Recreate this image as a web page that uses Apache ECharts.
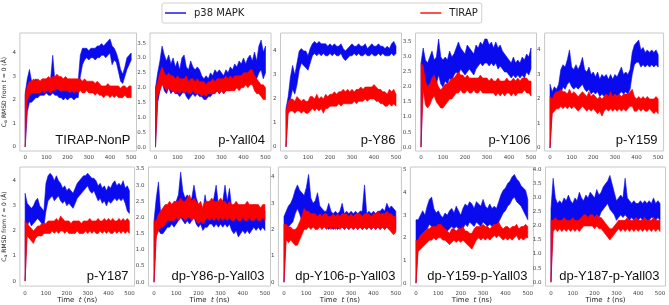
<!DOCTYPE html>
<html>
<head>
<meta charset="utf-8">
<script src="https://cdn.jsdelivr.net/npm/echarts@6/dist/echarts.min.js"></script>
<style>
html, body { margin: 0; padding: 0; background: #fff; }
#chart { width: 669px; height: 305px; }
</style>
</head>
<body>
<div id="chart"></div>
<script>
// time samples (ns), every 10 ns
const times = [0,10,20,30,40,50,60,70,80,90,100,110,120,130,140,150,160,170,180,190,200,
  210,220,230,240,250,260,270,280,290,300,310,320,330,340,350,360,370,380,390,400,
  410,420,430,440,450,460,470,480,490,500];

const panelNames = ['TIRAP-NonP','p-Yall04','p-Y86','p-Y106','p-Y159',
  'p-Y187','dp-Y86-p-Yall03','dp-Y106-p-Yall03','dp-Y159-p-Yall03','dp-Y187-p-Yall03'];

const yTicks = [
  [0,1,2,3,4], [0,0.5,1,1.5,2,2.5,3,3.5], [0,1,2,3,4], [0,0.5,1,1.5,2,2.5,3,3.5], [0,1,2,3,4],
  [0,1,2,3,4], [0,0.5,1,1.5,2,2.5,3,3.5], [0,1,2,3,4], [0,1,2,3,4,5], [0,0.5,1,1.5,2,2.5,3,3.5,4]
];
const xTicks = [0,100,200,300,400,500];

// RMSD envelopes (low / high of the fluctuation band), Å
const p1BlueLo = [0,1.5,1.9,1.9,2.0,2.1,2.1,2.2,2.2,2.2,2.3,2.2,2.2,2.3,2.2,2.2,2.1,2.1,2.0,2.1,2.0,2.1,2.1,2.0,2.1,2.1,3.0,3.5,3.7,3.8,3.7,3.8,3.8,3.7,3.8,3.8,3.9,3.9,3.8,3.9,4.0,3.5,3.7,3.6,3.2,2.8,2.7,3.0,3.3,3.5,3.7];
const p1BlueHi = [2.3,2.9,3.3,2.8,2.7,2.9,2.8,2.8,2.7,2.8,2.9,2.8,2.9,3.9,2.8,2.9,2.8,2.7,2.6,2.7,2.6,2.7,2.6,2.6,2.7,2.8,3.9,4.2,4.2,4.2,4.1,4.2,4.2,4.2,4.3,4.3,4.4,4.3,4.4,4.5,4.6,4.3,4.2,4.0,3.7,3.3,3.1,3.4,3.8,3.9,4.0];
const p1RedLo = [0,2.0,2.2,2.3,2.3,2.3,2.3,2.3,2.4,2.3,2.4,2.4,2.3,2.4,2.4,2.5,2.4,2.4,2.4,2.4,2.4,2.3,2.4,2.3,2.4,2.3,2.4,2.3,2.3,2.4,2.3,2.3,2.3,2.2,2.3,2.2,2.2,2.1,2.2,2.2,2.1,2.2,2.1,2.2,2.1,2.1,2.1,2.2,2.1,2.1,2.1];
const p1RedHi = [2.2,2.6,2.8,2.8,2.9,2.8,2.9,2.8,2.9,2.9,2.9,3.0,2.9,3.0,3.0,3.1,3.0,3.0,2.9,3.0,2.9,2.9,2.9,2.9,2.9,2.9,2.9,2.8,2.9,2.8,2.8,2.8,2.8,2.7,2.8,2.7,2.6,2.6,2.6,2.7,2.6,2.6,2.6,2.6,2.6,2.5,2.6,2.6,2.5,2.6,2.6];

const p2BlueLo = [0,1.5,1.9,2.2,1.9,1.8,2.0,1.8,1.9,1.8,1.8,1.7,1.8,1.9,1.7,1.6,1.7,1.8,1.7,1.8,1.7,1.7,1.6,1.6,1.7,1.7,1.8,1.8,1.9,1.8,1.9,1.8,1.9,1.9,1.9,2.0,2.0,2.1,2.0,2.1,2.2,2.1,2.2,2.3,2.2,2.4,2.3,2.5,2.6,2.3,2.5];
const p2BlueHi = [2.0,2.5,2.9,3.4,3.1,2.9,3.1,2.8,3.0,2.7,2.9,2.6,3.0,3.1,2.7,2.6,2.9,2.7,2.6,2.7,2.6,2.4,2.3,2.4,2.3,2.5,2.4,2.6,2.5,2.6,2.5,2.4,2.6,2.5,2.7,2.6,2.8,2.7,2.9,2.8,3.0,2.8,3.0,3.1,2.9,3.2,2.9,3.4,3.6,3.2,3.4];
const p2RedLo = [0,1.7,1.9,2.1,2.0,1.9,2.0,1.9,1.9,1.8,1.9,1.8,1.9,1.8,1.9,1.8,1.8,1.9,1.8,1.8,1.8,1.7,1.8,1.7,1.8,1.8,1.8,1.8,1.9,1.8,1.9,1.8,1.9,1.9,1.9,1.9,1.9,2.0,1.9,2.0,2.0,2.1,2.0,2.1,2.1,1.9,1.8,1.8,1.7,1.6,1.6];
const p2RedHi = [2.0,2.2,2.5,2.7,2.5,2.4,2.5,2.4,2.4,2.3,2.4,2.3,2.3,2.3,2.4,2.2,2.3,2.3,2.2,2.3,2.2,2.2,2.2,2.1,2.2,2.2,2.3,2.2,2.3,2.3,2.3,2.3,2.4,2.3,2.4,2.3,2.4,2.4,2.4,2.4,2.5,2.5,2.5,2.6,2.6,2.4,2.3,2.2,2.1,2.1,2.0];

const p3BlueLo = [0,1.6,2.0,2.4,2.2,2.6,3.2,3.5,3.4,3.3,3.2,3.5,3.8,3.9,3.8,3.9,3.8,3.9,3.8,3.8,3.9,3.8,3.9,3.8,3.8,3.9,3.7,3.6,3.7,3.8,3.8,3.9,3.8,3.9,3.8,3.8,3.9,3.8,3.8,3.9,3.8,3.8,3.9,3.8,3.9,3.8,3.8,3.8,3.9,3.8,3.9];
const p3BlueHi = [1.6,2.1,2.9,3.4,3.0,3.5,4.0,4.1,4.0,4.0,3.8,4.1,4.3,4.4,4.3,4.4,4.3,4.3,4.3,4.2,4.3,4.2,4.3,4.2,4.2,4.3,4.1,4.0,4.1,4.2,4.3,4.2,4.2,4.3,4.2,4.2,4.3,4.1,4.2,4.3,4.2,4.2,4.3,4.2,4.2,4.1,4.2,4.1,4.3,4.4,4.2];
const p3RedLo = [0,1.4,1.5,1.5,1.4,1.5,1.5,1.4,1.5,1.4,1.4,1.5,1.6,1.5,1.6,1.5,1.6,1.4,1.6,1.6,1.7,1.7,1.7,1.7,1.8,1.7,1.8,1.8,1.8,1.8,1.8,1.9,1.8,1.9,1.9,1.9,2.0,1.9,2.0,2.0,2.0,1.9,1.9,1.8,1.8,1.7,1.7,1.8,1.7,1.8,1.7];
const p3RedHi = [1.5,1.9,2.0,2.0,1.9,2.1,2.0,1.9,2.0,1.9,1.9,2.1,2.1,2.0,2.2,2.0,2.1,2.0,2.2,2.1,2.2,2.2,2.3,2.2,2.3,2.3,2.4,2.3,2.4,2.3,2.4,2.3,2.4,2.4,2.5,2.4,2.5,2.5,2.5,2.5,2.6,2.5,2.4,2.4,2.3,2.3,2.2,2.4,2.3,2.4,2.2];

const p4BlueLo = [0,2.3,1.6,2.0,2.1,2.0,2.2,2.1,2.4,2.1,2.0,2.2,2.1,2.3,2.2,2.4,2.5,2.4,2.6,2.5,2.4,2.5,2.6,2.5,2.4,2.6,2.7,2.8,2.7,2.8,2.8,2.7,2.8,2.7,2.8,2.6,2.7,2.6,2.5,2.5,2.4,2.3,2.4,2.3,2.4,2.3,2.4,2.3,2.5,2.4,2.6];
const p4BlueHi = [2.8,3.3,2.9,2.8,3.0,3.2,2.9,3.0,3.6,3.0,2.9,3.0,2.9,3.2,3.0,3.1,3.3,3.5,3.3,3.2,3.1,3.4,3.3,3.2,3.1,3.4,3.3,3.5,3.4,3.6,3.6,3.4,3.5,3.3,3.5,3.3,3.4,3.2,3.1,3.0,2.9,2.8,3.0,2.8,2.9,2.8,3.0,2.9,3.1,3.0,3.3];
const p4RedLo = [0,1.9,1.4,1.3,1.4,1.6,1.7,1.5,1.4,1.3,1.3,1.4,1.5,1.6,1.6,1.7,1.8,1.8,1.9,1.8,1.8,1.9,1.8,1.8,1.9,1.8,1.8,1.9,1.8,1.8,1.8,1.8,1.8,1.8,1.7,1.8,1.7,1.8,1.7,1.8,1.8,1.7,1.8,1.7,1.8,1.8,1.8,1.9,1.8,1.8,1.7];
const p4RedHi = [2.8,2.7,2.2,2.0,2.1,2.3,2.4,2.2,2.0,1.9,2.0,2.1,2.1,2.2,2.3,2.3,2.4,2.5,2.4,2.4,2.3,2.4,2.3,2.3,2.3,2.3,2.3,2.4,2.3,2.3,2.3,2.2,2.3,2.2,2.2,2.3,2.2,2.2,2.2,2.3,2.2,2.2,2.3,2.2,2.3,2.2,2.3,2.3,2.3,2.2,2.2];

const p5BlueLo = [0,1.5,1.6,1.7,1.8,2.2,2.5,2.4,2.6,2.7,2.5,2.4,2.5,2.4,2.5,2.6,2.4,2.3,2.4,2.2,2.3,2.2,2.3,2.1,2.2,2.1,2.2,2.1,2.2,2.0,2.2,2.1,2.2,2.3,2.2,2.3,2.2,2.4,3.0,3.4,3.5,3.5,3.3,3.4,3.3,3.4,3.3,3.4,3.3,3.4,3.3];
const p5BlueHi = [2.6,2.3,2.5,2.4,2.6,3.2,3.4,3.3,3.6,4.0,3.3,3.2,3.4,3.2,3.4,3.7,3.2,3.1,3.3,3.0,3.1,2.9,3.1,2.8,3.0,2.9,3.0,2.8,3.0,2.8,3.0,2.9,3.1,3.3,3.0,3.1,3.0,3.2,3.9,4.2,4.3,4.4,4.0,4.1,3.9,4.0,3.9,4.0,3.9,4.0,3.8];
const p5RedLo = [0,1.4,1.5,1.6,1.6,1.7,1.6,1.7,1.6,1.7,1.6,1.7,1.6,1.5,1.6,1.7,1.6,1.5,1.6,1.5,1.6,1.5,1.4,1.5,1.3,1.5,1.6,1.5,1.6,1.5,1.6,1.5,1.6,1.5,1.6,1.5,1.6,1.7,1.7,1.5,1.5,1.6,1.5,1.6,1.5,1.5,1.6,1.5,1.4,1.5,1.4];
const p5RedHi = [2.1,2.0,2.2,2.3,2.3,2.4,2.3,2.3,2.2,2.4,2.2,2.3,2.2,2.1,2.2,2.3,2.2,2.1,2.3,2.1,2.2,2.1,2.0,2.1,2.0,2.1,2.2,2.1,2.3,2.1,2.2,2.1,2.2,2.1,2.2,2.2,2.2,2.3,2.4,2.1,2.0,2.1,2.0,2.1,2.0,2.1,2.0,2.0,2.0,2.1,2.0];

const p6BlueLo = [0,2.2,2.4,2.2,2.3,2.4,2.5,2.4,2.3,2.2,2.8,3.2,3.3,3.4,3.2,3.3,3.4,3.2,3.1,3.2,3.0,3.1,3.0,2.9,3.1,3.3,3.4,3.5,3.6,3.7,3.8,3.6,3.5,3.6,3.4,3.2,3.3,3.1,3.2,3.0,3.2,3.1,3.2,3.3,3.2,3.3,3.2,3.3,3.1,2.8,2.7];
const p6BlueHi = [3.5,3.1,3.0,2.9,3.0,3.2,3.3,3.0,2.9,2.8,3.9,4.2,4.3,4.2,4.0,4.2,4.0,3.9,3.7,3.8,3.6,3.7,3.6,3.5,3.7,3.9,4.0,4.1,4.2,4.2,4.3,4.2,4.1,4.1,4.0,3.8,3.9,3.7,3.8,3.6,3.8,3.7,3.9,4.0,3.8,3.9,3.8,4.0,3.7,3.8,3.6];
const p6RedLo = [0,1.8,1.7,1.6,1.5,1.7,1.8,1.8,1.8,1.9,1.9,1.9,1.9,2.0,1.9,2.0,1.9,2.0,2.0,1.9,2.0,1.9,1.9,1.9,1.9,2.0,1.9,1.9,1.9,2.0,1.9,2.0,1.9,2.0,1.9,1.9,2.0,1.9,2.0,1.9,2.0,1.9,1.9,2.0,1.9,2.0,1.9,2.0,1.9,2.0,1.9];
const p6RedHi = [2.4,2.3,2.2,2.1,2.0,2.1,2.2,2.2,2.3,2.3,2.3,2.4,2.4,2.4,2.4,2.5,2.4,2.6,2.5,2.4,2.4,2.4,2.3,2.4,2.4,2.4,2.4,2.3,2.4,2.4,2.4,2.5,2.4,2.4,2.4,2.5,2.4,2.4,2.5,2.4,2.5,2.4,2.5,2.4,2.4,2.5,2.4,2.5,2.4,2.5,2.4];

const p7BlueLo = [0,1.5,1.6,1.5,1.5,1.6,1.7,1.7,1.8,1.7,1.8,1.9,2.0,1.9,1.8,1.9,1.8,1.9,2.0,1.8,1.7,1.8,1.6,1.7,1.7,1.8,1.8,1.7,1.8,1.7,1.8,1.7,1.8,1.7,1.8,1.6,1.5,1.6,1.4,1.5,1.6,1.5,1.6,1.5,1.6,1.7,1.6,1.7,1.6,1.7,1.6];
const p7BlueHi = [1.9,2.6,3.1,2.1,2.0,2.2,2.3,2.2,2.4,2.3,2.5,2.7,3.4,2.8,2.6,2.7,2.5,2.6,3.0,2.6,2.4,2.3,2.2,2.7,2.3,2.5,2.4,2.6,3.0,2.4,2.5,2.5,3.0,2.5,2.9,2.3,2.2,2.3,2.1,2.2,2.3,2.2,2.4,2.2,2.3,2.4,2.3,2.3,2.2,2.3,2.2];
const p7RedLo = [0,1.4,1.6,1.7,1.7,1.8,1.9,1.9,1.9,1.9,2.0,1.9,2.0,2.0,1.9,2.0,2.0,1.9,2.0,1.9,1.8,1.9,1.8,1.9,2.0,1.9,2.0,1.9,2.0,1.9,2.0,1.9,2.0,1.9,2.0,1.9,1.9,2.0,1.9,1.9,2.0,1.9,1.9,2.0,1.9,1.9,2.0,1.9,1.9,2.0,1.9];
const p7RedHi = [1.9,1.9,2.1,2.2,2.3,2.4,2.4,2.5,2.4,2.5,2.5,2.5,2.6,2.5,2.5,2.6,2.7,2.5,2.6,2.5,2.4,2.5,2.3,2.5,2.5,2.5,2.6,2.5,2.5,2.5,2.6,2.5,2.5,2.4,2.5,2.4,2.4,2.5,2.4,2.4,2.4,2.4,2.5,2.4,2.4,2.4,2.4,2.4,2.3,2.4,2.4];

const p8BlueLo = [0,1.9,2.1,2.2,2.3,2.6,2.8,2.6,2.3,2.1,2.4,2.3,2.2,2.3,2.2,2.3,2.2,2.1,2.2,2.1,2.0,2.1,2.0,2.1,2.0,2.1,2.1,2.0,2.1,2.0,2.1,2.0,2.1,2.0,2.1,2.0,2.1,2.0,2.1,2.0,2.1,2.0,2.1,2.0,2.1,2.0,2.1,2.0,2.1,2.0,2.0];
const p8BlueHi = [2.5,2.7,2.9,3.0,3.2,3.5,3.7,3.5,3.4,3.3,3.6,4.1,3.2,3.0,3.1,3.4,2.9,2.8,2.7,2.7,3.0,2.7,2.6,2.7,2.6,2.7,3.0,2.6,2.7,2.6,2.7,2.6,2.7,2.6,2.7,2.7,3.7,2.6,2.7,2.6,2.7,2.6,2.7,2.7,2.8,2.7,3.0,2.8,2.9,2.8,2.7];
const p8RedLo = [0,1.6,1.5,1.6,1.5,1.4,1.4,1.6,1.8,2.0,2.0,2.1,2.0,2.1,2.0,2.0,2.1,2.0,2.1,2.0,2.1,2.0,2.1,2.0,2.1,2.0,2.1,2.0,2.1,2.0,2.1,2.0,2.1,2.0,2.1,2.0,2.1,2.0,2.1,2.0,2.1,2.0,2.1,2.0,2.1,2.0,2.1,2.0,1.9,1.8,1.9];
const p8RedHi = [2.2,2.2,2.1,2.1,2.0,2.0,2.1,2.3,2.5,2.8,2.7,2.7,2.6,2.6,2.6,2.5,2.6,2.5,2.6,2.6,2.5,2.5,2.6,2.5,2.6,2.5,2.6,2.6,2.6,2.5,2.6,2.5,2.6,2.6,2.6,2.5,2.6,2.6,2.6,2.5,2.6,2.6,2.7,2.6,2.6,2.6,2.7,2.6,2.6,2.5,2.5];

const p9BlueLo = [0,1.9,2.1,2.2,2.3,2.4,2.6,2.5,2.4,2.3,2.4,2.3,2.2,2.4,2.3,2.4,2.5,2.4,2.5,2.4,2.3,2.4,2.6,2.5,2.7,2.6,2.5,2.7,2.6,2.5,2.7,2.6,2.5,2.6,2.5,2.6,2.5,2.7,2.9,3.1,3.2,3.4,3.5,3.7,3.8,3.6,3.5,3.4,3.2,3.0,2.8];
const p9BlueHi = [2.8,2.8,3.0,3.2,3.0,3.4,3.7,3.8,3.3,3.1,3.2,3.0,2.9,3.1,3.0,3.2,3.3,3.1,3.4,3.2,3.0,3.3,3.5,3.4,3.6,3.5,3.3,3.6,3.5,3.4,3.7,3.4,3.3,3.5,3.3,3.4,3.3,3.6,3.9,4.1,4.2,4.4,4.5,4.7,4.8,4.6,4.5,4.3,4.2,4.1,3.7];
const p9RedLo = [0,1.4,1.5,1.6,1.7,1.8,1.9,1.9,2.0,1.9,2.0,2.0,1.9,1.9,1.8,1.7,1.8,1.9,1.8,1.9,1.8,1.9,1.8,1.7,1.6,1.5,1.7,1.9,2.0,1.9,2.0,1.9,2.0,1.9,2.0,2.1,2.0,2.1,2.0,1.9,2.0,1.9,2.0,1.9,2.0,2.1,1.9,2.0,1.9,2.0,2.0];
const p9RedHi = [1.9,1.9,2.1,2.2,2.3,2.4,2.4,2.5,2.5,2.5,2.6,2.6,2.5,2.4,2.3,2.2,2.4,2.4,2.3,2.4,2.4,2.5,2.3,2.3,2.2,2.2,2.4,2.5,2.5,2.5,2.6,2.5,2.5,2.4,2.5,2.6,2.6,2.7,2.5,2.4,2.5,2.5,2.4,2.5,2.5,2.6,2.4,2.5,2.5,2.6,2.5];

const p10BlueLo = [0,2.1,2.1,2.0,2.1,2.0,2.1,2.2,2.1,2.2,2.1,2.2,2.1,2.2,2.3,2.2,2.3,2.2,2.3,2.4,2.3,2.4,2.3,2.5,2.6,2.7,2.8,2.6,2.5,2.4,2.2,2.3,2.4,2.3,2.4,2.3,2.2,2.3,2.2,2.3,2.2,2.3,2.2,2.3,2.2,2.2,2.3,2.3,2.2,2.3,2.2];
const p10BlueHi = [2.6,3.7,3.0,2.8,2.9,2.8,3.0,2.9,3.1,2.9,2.8,3.0,2.9,3.2,3.0,2.9,3.1,3.0,3.2,3.1,3.0,3.3,3.1,3.2,3.4,3.5,3.6,3.8,3.5,3.2,2.9,3.0,3.1,3.0,3.7,3.0,2.9,2.8,2.9,2.8,2.8,2.9,2.8,2.9,2.8,2.9,2.8,3.0,2.8,2.9,2.8];
const p10RedLo = [0,1.8,1.9,1.8,1.9,1.8,1.9,1.8,1.9,1.8,1.9,1.8,1.9,1.8,1.9,2.0,2.0,2.0,2.0,2.0,1.9,2.0,1.9,1.9,1.8,1.7,1.6,1.5,1.6,1.7,1.8,1.9,1.8,1.9,1.8,1.9,1.8,1.9,1.8,1.9,1.8,1.9,1.8,1.9,1.8,1.9,1.8,1.9,1.8,1.9,1.8];
const p10RedHi = [2.2,2.2,2.3,2.2,2.2,2.2,2.3,2.2,2.2,2.2,2.3,2.2,2.2,2.2,2.3,2.4,2.4,2.3,2.4,2.4,2.3,2.4,2.3,2.3,2.2,2.1,2.0,1.9,1.9,2.0,2.1,2.2,2.2,2.2,2.2,2.3,2.2,2.2,2.2,2.3,2.2,2.2,2.2,2.3,2.2,2.2,2.2,2.3,2.2,2.2,2.2];

const blueData = [
  [p1BlueLo, p1BlueHi], [p2BlueLo, p2BlueHi], [p3BlueLo, p3BlueHi], [p4BlueLo, p4BlueHi], [p5BlueLo, p5BlueHi],
  [p6BlueLo, p6BlueHi], [p7BlueLo, p7BlueHi], [p8BlueLo, p8BlueHi], [p9BlueLo, p9BlueHi], [p10BlueLo, p10BlueHi]
];
const redData = [
  [p1RedLo, p1RedHi], [p2RedLo, p2RedHi], [p3RedLo, p3RedHi], [p4RedLo, p4RedHi], [p5RedLo, p5RedHi],
  [p6RedLo, p6RedHi], [p7RedLo, p7RedHi], [p8RedLo, p8RedHi], [p9RedLo, p9RedHi], [p10RedLo, p10RedHi]
];

// layout of the 2x5 panels: [left, top, width, height, yMin, yMax, decimals]
const layout = [
  [15.5, 33, 121, 118, -0.17, 4.85, 0],
  [150, 33, 121, 118, -0.13, 3.84, 1],
  [280.5, 33, 121, 118, -0.17, 4.75, 0],
  [415.5, 33, 121, 118, -0.13, 3.80, 1],
  [544.6, 33, 119, 118, -0.12, 4.69, 0],
  [15.6, 167, 119, 120, -0.20, 4.55, 0],
  [148.5, 167, 122, 120, -0.12, 3.56, 1],
  [278.4, 167, 123, 120, -0.15, 4.38, 0],
  [410.4, 167, 123, 120, -0.13, 5.13, 0],
  [545.5, 167, 120, 120, -0.14, 4.10, 1]
];

const BLUE = '#0a0aee';
const RED = '#ff0000';

// fluctuation band: polygon along the high envelope, back along the low one
function bandSeries(name, k, lo, hi, color, z) {
  return {
    name: name, type: 'custom', xAxisIndex: k, yAxisIndex: k,
    data: times.map(function (t, i) { return [t, lo[i], hi[i]]; }),
    encode: { x: 0, y: [1, 2] },
    itemStyle: { color: color },
    z: z,
    animation: false,
    renderItem: function (params, api) {
      if (params.dataIndex !== 0) return;
      const pts = [];
      for (let i = 0; i < times.length; i++) pts.push(api.coord([times[i], hi[i]]));
      for (let i = times.length - 1; i >= 0; i--) pts.push(api.coord([times[i], lo[i]]));
      return {
        type: 'polygon',
        shape: { points: pts },
        style: { fill: color, stroke: color, lineWidth: 0.6 }
      };
    }
  };
}

const tickFont = 'DejaVu Sans';
const grids = [], xAxes = [], yAxes = [], series = [], texts = [];

layout.forEach(function (g, k) {
  const [left, top, width, height, yMin, yMax, dec] = g;
  grids.push({
    left: left, top: top, width: width, height: height,
    show: true, borderColor: '#c8c8c8', borderWidth: 1, backgroundColor: '#fff'
  });
  const bottomRow = k >= 5;
  xAxes.push({
    type: 'value', gridIndex: k, min: -25, max: 525,
    axisLine: { show: false },
    splitLine: { show: false },
    axisTick: { show: false },
    axisLabel: { fontSize: 5.5, color: '#444', fontFamily: tickFont, margin: 4, customValues: xTicks },
    name: bottomRow ? '{a|Time  }{i|t}{a| (ns)}' : '',
    nameLocation: 'middle',
    nameGap: 8,
    nameTextStyle: {
      rich: {
        a: { fontSize: 7, fontFamily: tickFont, color: '#222' },
        i: { fontSize: 7, fontFamily: tickFont, fontStyle: 'italic', color: '#222' }
      }
    }
  });
  const yt = yTicks[k];
  yAxes.push({
    type: 'value', gridIndex: k, min: yMin, max: yMax,
    axisLine: { show: false },
    splitLine: { show: false },
    axisTick: { show: false },
    axisLabel: {
      fontSize: 5.5, color: '#444', fontFamily: tickFont, margin: 4, customValues: yt,
      formatter: function (v) { return Number(v).toFixed(dec); }
    },
    name: (k === 0 || k === 5) ? '{a|C}{s|α}{a| RMSD from }{i|t}{a| = 0 (Å)}' : '',
    nameLocation: 'middle',
    nameRotate: 90,
    nameGap: 7,
    nameTextStyle: {
      rich: {
        a: { fontSize: 6, fontFamily: tickFont, color: '#222' },
        s: { fontSize: 4.5, fontFamily: tickFont, color: '#222', padding: [4, 0, 0, 0] },
        i: { fontSize: 6, fontFamily: tickFont, fontStyle: 'italic', color: '#222' }
      }
    }
  });
  series.push(bandSeries('p38 MAPK', k, blueData[k][0], blueData[k][1], BLUE, 2));
  series.push(bandSeries('TIRAP', k, redData[k][0], redData[k][1], RED, 3));
  texts.push({
    type: 'text',
    x: left + width - 6,
    y: top + height - 4,
    z: 10,
    style: {
      text: panelNames[k],
      fontSize: 13,
      fontFamily: 'Liberation Sans',
      fill: '#111',
      align: 'right',
      verticalAlign: 'bottom'
    }
  });
});

const chart = echarts.init(document.getElementById('chart'), null, { renderer: 'canvas' });
chart.setOption({
  backgroundColor: '#fff',
  animation: false,
  legend: {
    data: [{ name: 'p38 MAPK', icon: 'rect' }, { name: 'TIRAP', icon: 'rect' }],
    left: 162, top: 3,
    padding: [5, 4, 5, 3],
    itemWidth: 21, itemHeight: 1.4,
    itemGap: 176,
    borderColor: '#d0d0d0', borderWidth: 1, borderRadius: 2,
    textStyle: { fontSize: 10, fontFamily: tickFont, color: '#222', padding: [0, 0, 0, 3], lineHeight: 10 }
  },
  grid: grids,
  xAxis: xAxes,
  yAxis: yAxes,
  series: series,
  graphic: texts
});
</script>
</body>
</html>
